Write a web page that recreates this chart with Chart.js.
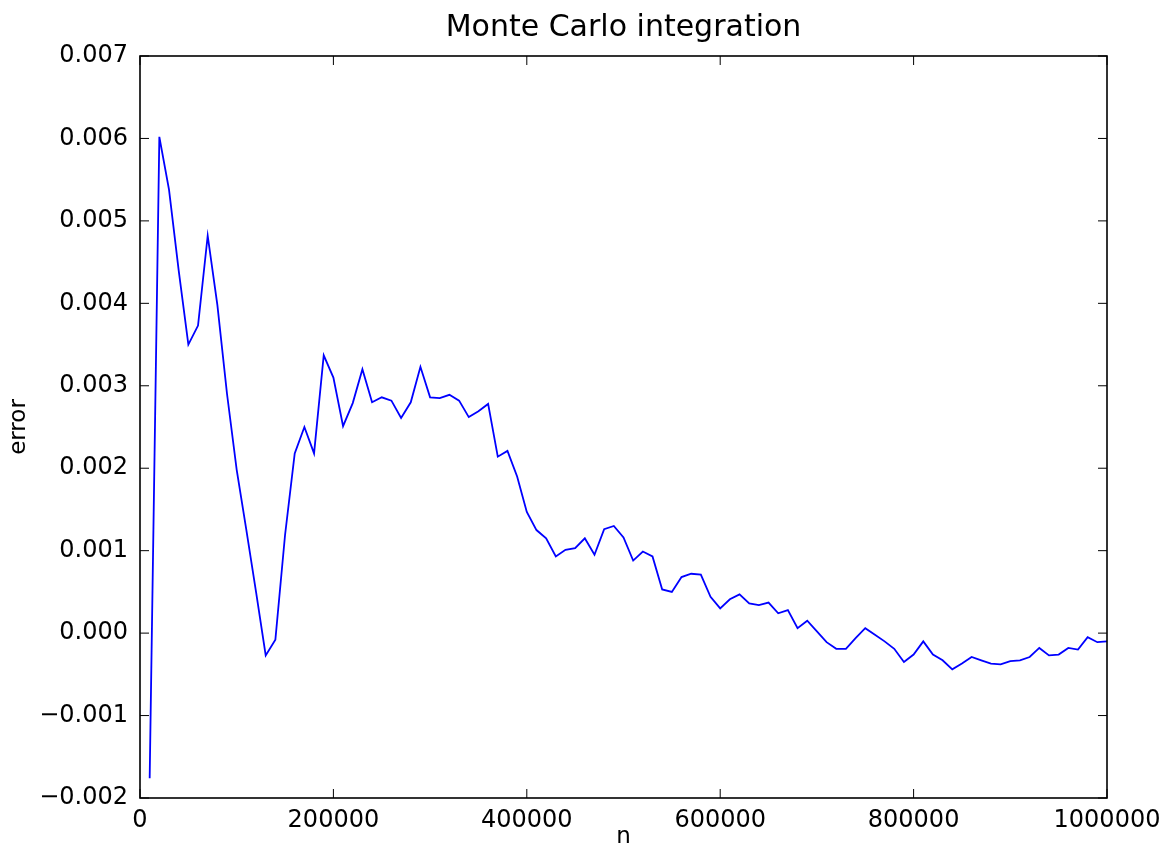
<!DOCTYPE html>
<html lang="en">
<head>
    <meta charset="UTF-8">
    <meta name="viewport" content="width=device-width, initial-scale=1.0">
    <title>Monte Carlo integration</title>
    <script src="https://cdn.jsdelivr.net/npm/chart.js"></script>
    <style>
        body {
            margin: 0;
            padding: 0;
            background-color: #ffffff;
        }
        .chart-box {
            width: 1165px;
            height: 849px;
        }
    </style>
</head>
<body>

    <div class="chart-box">
        <canvas id="graficoErro"></canvas>
    </div>

    <script>
        // sample sizes n (x axis)
        const nValues = [
            10000, 20000, 30000, 40000, 50000, 60000, 70000, 80000, 90000, 100000,
            110000, 120000, 130000, 140000, 150000, 160000, 170000, 180000, 190000, 200000,
            210000, 220000, 230000, 240000, 250000, 260000, 270000, 280000, 290000, 300000,
            310000, 320000, 330000, 340000, 350000, 360000, 370000, 380000, 390000, 400000,
            410000, 420000, 430000, 440000, 450000, 460000, 470000, 480000, 490000, 500000,
            510000, 520000, 530000, 540000, 550000, 560000, 570000, 580000, 590000, 600000,
            610000, 620000, 630000, 640000, 650000, 660000, 670000, 680000, 690000, 700000,
            710000, 720000, 730000, 740000, 750000, 760000, 770000, 780000, 790000, 800000,
            810000, 820000, 830000, 840000, 850000, 860000, 870000, 880000, 890000, 900000,
            910000, 920000, 930000, 940000, 950000, 960000, 970000, 980000, 990000, 1000000
        ];

        // error
        const errorValues = [
            -0.00176, 0.00602, 0.00538, 0.0044, 0.0035, 0.00373, 0.00482, 0.00398, 0.0029, 0.00198,
            0.00125, 0.0005, -0.00027, -0.00008, 0.00119, 0.00218, 0.0025, 0.00218, 0.00337, 0.0031,
            0.00251, 0.00279, 0.0032, 0.0028, 0.00286, 0.00282, 0.00261, 0.0028, 0.00323, 0.00286,
            0.00285, 0.00289, 0.00282, 0.00262, 0.00269, 0.00278, 0.00214, 0.00221, 0.0019, 0.00147,
            0.00125, 0.00115, 0.00093, 0.00101, 0.00103, 0.00115, 0.00095, 0.00126, 0.0013, 0.00116,
            0.00088, 0.00099, 0.00093, 0.00053, 0.0005, 0.00068, 0.00072, 0.00071, 0.00044, 0.0003,
            0.00041, 0.00047, 0.00036, 0.00034, 0.00037, 0.00024, 0.00028, 0.00006, 0.00015, 0.00002,
            -0.00011, -0.00019, -0.00019, -0.00006, 0.00006, -0.00002, -0.0001, -0.00019, -0.00035, -0.00026,
            -0.0001, -0.00026, -0.00033, -0.00044, -0.00037, -0.00029, -0.00033, -0.00037, -0.00038, -0.00034,
            -0.00033, -0.00029, -0.00018, -0.00027, -0.00026, -0.00018, -0.0002, -0.00005, -0.00011, -0.0001
        ];

        const xTicks = [0, 200000, 400000, 600000, 800000, 1000000];
        const yTicks = [-0.002, -0.001, 0, 0.001, 0.002, 0.003, 0.004, 0.005, 0.006, 0.007];

        const fonte = "'DejaVu Sans', sans-serif";

        // matplotlib style frame with inward ticks on all four sides
        const molduraPlugin = {
            id: 'moldura',
            afterDraw(chart) {
                const ctx = chart.ctx;
                const area = chart.chartArea;
                const sx = chart.scales.x;
                const sy = chart.scales.y;
                const len = 9;
                ctx.save();
                ctx.strokeStyle = '#000000';
                ctx.lineWidth = 1;
                ctx.beginPath();
                xTicks.forEach(v => {
                    const px = sx.getPixelForValue(v);
                    ctx.moveTo(px, area.bottom);
                    ctx.lineTo(px, area.bottom - len);
                    ctx.moveTo(px, area.top);
                    ctx.lineTo(px, area.top + len);
                });
                yTicks.forEach(v => {
                    const py = sy.getPixelForValue(v);
                    ctx.moveTo(area.left, py);
                    ctx.lineTo(area.left + len, py);
                    ctx.moveTo(area.right, py);
                    ctx.lineTo(area.right - len, py);
                });
                ctx.stroke();
                ctx.lineWidth = 1.6;
                ctx.strokeRect(area.left, area.top, area.right - area.left, area.bottom - area.top);
                ctx.restore();
            }
        };

        function gerarGrafico() {
            const ctx = document.getElementById('graficoErro').getContext('2d');
            const pontos = nValues.map((n, i) => ({ x: n, y: errorValues[i] }));

            new Chart(ctx, {
                type: 'line',
                data: {
                    datasets: [{
                        data: pontos,
                        borderColor: '#0000ff',
                        borderWidth: 1.8,
                        pointRadius: 0,
                        tension: 0,
                        fill: false
                    }]
                },
                options: {
                    responsive: true,
                    maintainAspectRatio: false,
                    animation: false,
                    layout: {
                        padding: { left: 0, right: 58, top: 0, bottom: 0 }
                    },
                    plugins: {
                        legend: { display: false },
                        tooltip: { enabled: false },
                        title: {
                            display: true,
                            fullSize: false,
                            text: 'Monte Carlo integration',
                            color: '#000000',
                            font: { family: fonte, size: 30, weight: 'normal' },
                            padding: { top: 10, bottom: 10 }
                        }
                    },
                    scales: {
                        x: {
                            type: 'linear',
                            min: 0,
                            max: 1000000,
                            afterBuildTicks: scale => {
                                scale.ticks = xTicks.map(v => ({ value: v }));
                            },
                            afterFit: scale => {
                                scale.height = 51;
                                scale.paddingRight = 0;
                                scale.paddingLeft = 0;
                            },
                            grid: { display: false, drawTicks: false },
                            border: { display: false },
                            ticks: {
                                color: '#000000',
                                font: { family: fonte, size: 24 },
                                padding: 8,
                                maxRotation: 0,
                                callback: v => String(v)
                            },
                            title: {
                                display: true,
                                text: 'n',
                                color: '#000000',
                                font: { family: fonte, size: 23, lineHeight: 1.0 },
                                padding: { top: 0, bottom: 0 }
                            }
                        },
                        y: {
                            min: -0.002,
                            max: 0.007,
                            afterBuildTicks: scale => {
                                scale.ticks = yTicks.map(v => ({ value: v }));
                            },
                            afterFit: scale => {
                                scale.width = 140;
                            },
                            grid: { display: false, drawTicks: false },
                            border: { display: false },
                            ticks: {
                                color: '#000000',
                                font: { family: fonte, size: 24 },
                                padding: 12,
                                callback: v => {
                                    const t = Math.abs(v).toFixed(3);
                                    return v < -1e-9 ? '\u2212' + t : t;
                                }
                            },
                            title: {
                                display: true,
                                text: 'error',
                                color: '#000000',
                                font: { family: fonte, size: 23 },
                                padding: { top: 5, bottom: 0 }
                            }
                        }
                    }
                },
                plugins: [molduraPlugin]
            });
        }

        gerarGrafico();
    </script>

</body>
</html>
